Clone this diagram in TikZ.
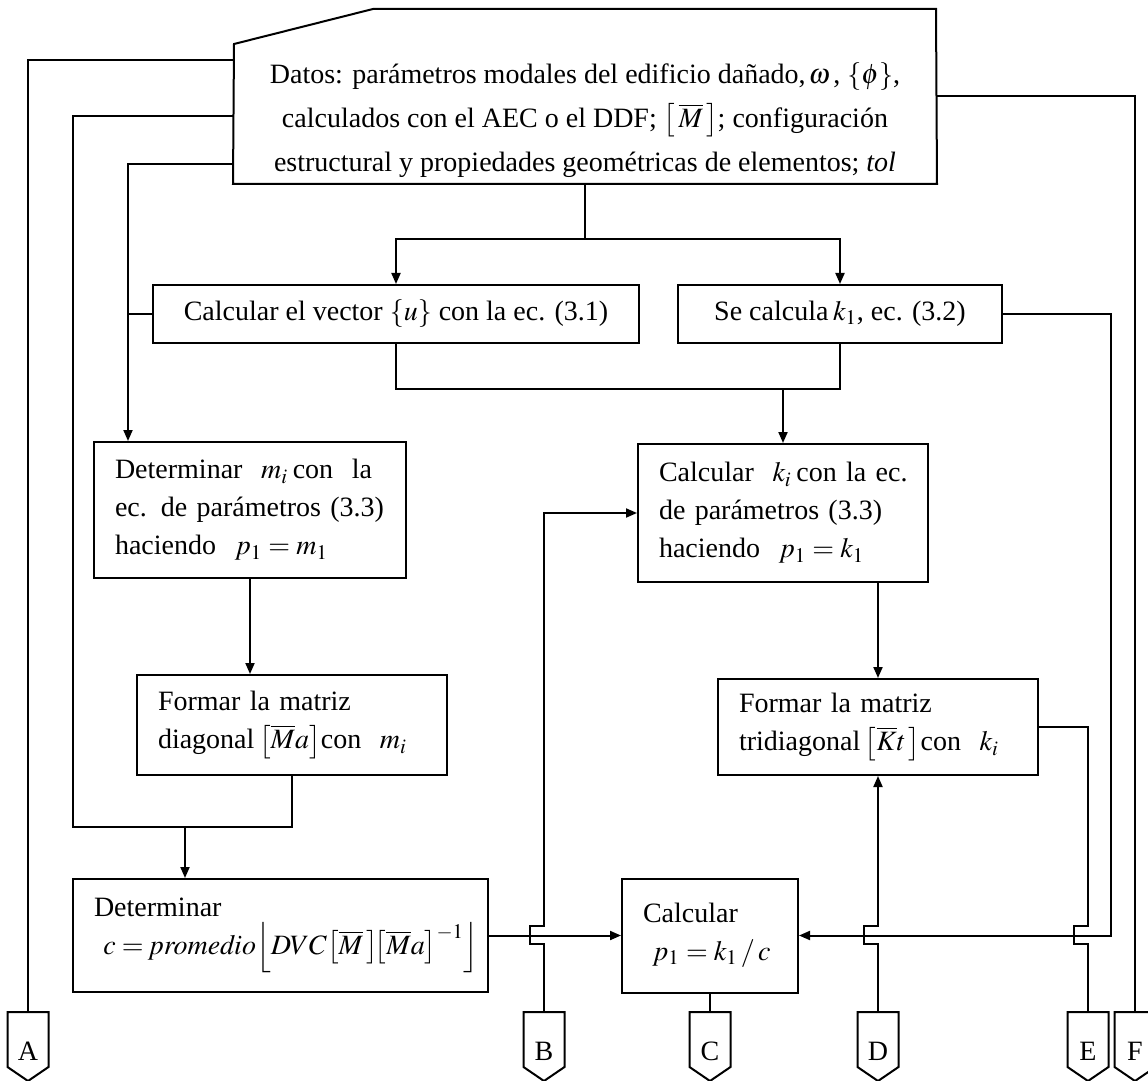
\documentclass[tikz,border=0pt]{standalone}
\usepackage{mathptmx}
\usepackage{fontspec}
\setmainfont{Liberation Serif}
\usetikzlibrary{arrows.meta}

\begin{document}
\begin{tikzpicture}[
  x=0.5pt, y=-0.5pt,
  line width=1pt,
  >={Triangle[length=5.5pt,width=4.5pt]},
  every node/.style={font=\fontsize{14}{19}\selectfont, inner sep=0pt},
  proc/.style={draw, inner xsep=10.5pt, align=left},
  conn/.style={minimum width=19.5pt, minimum height=33.5pt, text height=13.5pt, text depth=0pt}
]
\useasboundingbox (0,0) rectangle (1148,1081);

% datos de entrada
\node[minimum width=351pt, minimum height=63pt, align=center,
      font=\fontsize{14}{22}\selectfont] (datos) at (585,120)
  {Datos: parámetros modales del edificio dañado,$\,\omega\,$, $\{\phi\}$,\\
   calculados con el AEC o el DDF; $\left[\,\overline{M}\,\right]$; configuración\\
   estructural y propiedades geométricas de elementos; \textit{tol}};
\draw (datos.south west) -- (234,44) -- (373,9) -- (936,9) -- (datos.south east) -- cycle;

% pasos del proceso
\node[proc, minimum width=243pt, minimum height=29pt, align=center] (vecu) at (396,314)
  {Calcular el vector $\{u\}$ con la ec. (3.1)};
\node[proc, minimum width=162pt, minimum height=29pt, align=center] (kuno) at (840,314)
  {Se calcula\,$k_1$, ec. (3.2)};
\node[proc, text width=135pt, minimum height=68pt] (mi) at (250,510)
  {\makebox[\linewidth][s]{Determinar \ $m_i$\,con \ la}\\
   \mbox{ec. de parámetros (3.3)}\\
   haciendo\ \ $p_1 = m_1$};
\node[proc, text width=124pt, minimum height=69pt] (ki) at (783,513)
  {\mbox{Calcular\ \ $k_i$\,con la ec.}\\
   \mbox{de parámetros (3.3)}\\
   haciendo\ \ $p_1 = k_1$};
\node[proc, text width=134pt, minimum height=50pt] (madiag) at (292,725)
  {Formar la matriz\\
   \mbox{diagonal\,$\bigl[\overline{M}a\bigr]$con\ \ $m_i$}};
\node[proc, text width=139pt, minimum height=48pt] (kttri) at (878,727)
  {Formar la matriz\\
   \mbox{tridiagonal\,$\bigl[\overline{K}t\,\bigr]$con\ \ $k_i$}};
\node[proc, text width=186.5pt, minimum height=56.5pt] (cprom) at (280.5,935.5)
  {Determinar\\
   \mbox{\ $c = \mathit{promedio}\Bigl\lfloor DVC\bigl[\overline{M}\,\bigr]\!\bigl[\overline{M}a\bigr]^{-1}\Bigr\rfloor$}};
\node[proc, text width=67pt, minimum height=57pt] (pcalc) at (710,935.5)
  {Calcular\\
   \mbox{\ $p_1 = k_1\,/\,c$}};

% conectores de salida
\foreach \n/\x in {A/28,B/544,C/710,D/878,E/1088,F/1135}{
  \node[conn] (con\n) at (\x,1046.5) {\n};
  \draw (con\n.north west) -- (con\n.west |- 0,1067) -- (con\n.south)
    -- (con\n.east |- 0,1067) -- (con\n.north east) -- cycle;
}

% lineas desde los datos
\draw (datos.west |- 0,60) -| (conA.north);
\draw (datos.west |- 0,116) -| (73,827) -| (madiag.south);
\coordinate (jm) at (185,827);
\draw[->] (jm) -- (jm |- cprom.north);
\draw[->] (datos.west |- 0,164) -| (mi.north -| 128,0);
\draw (vecu.west) -- (vecu.west -| 128,0);
\draw (datos.south) -- ++(0,55) coordinate (split);
\draw[->] (split) -| (vecu.north);
\draw[->] (split) -| (kuno.north);
\draw (datos.east |- 0,96) -| (conF.north);

% flujo central
\draw (vecu.south) |- (kuno.south |- 0,389) -- (kuno.south);
\draw[->] (ki.north |- 0,389) -- (ki.north);
\draw[->] (mi.south) -- (mi.south |- madiag.north);
\draw[->] (kttri.north |- ki.south) -- (kttri.north);
\draw[->] (kuno.east) -| (pcalc.east -| 1111,0) -- (pcalc.east);
\draw[->] (cprom.east) -- (pcalc.west);
\draw (pcalc.south) -- (conC.north);

% cruces con salto
\draw[->] (conB.north) -- ++(0,-68) -- ++(-14,0) -- ++(0,-18) -- ++(14,0) |- (ki.west);
\draw[->] (conD.north) -- ++(0,-68) -- ++(-14,0) -- ++(0,-18) -- ++(14,0) -- (kttri.south);
\draw (conE.north) -- ++(0,-68) -- ++(-14,0) -- ++(0,-18) -- ++(14,0) |- (kttri.east);
\end{tikzpicture}
\end{document}
